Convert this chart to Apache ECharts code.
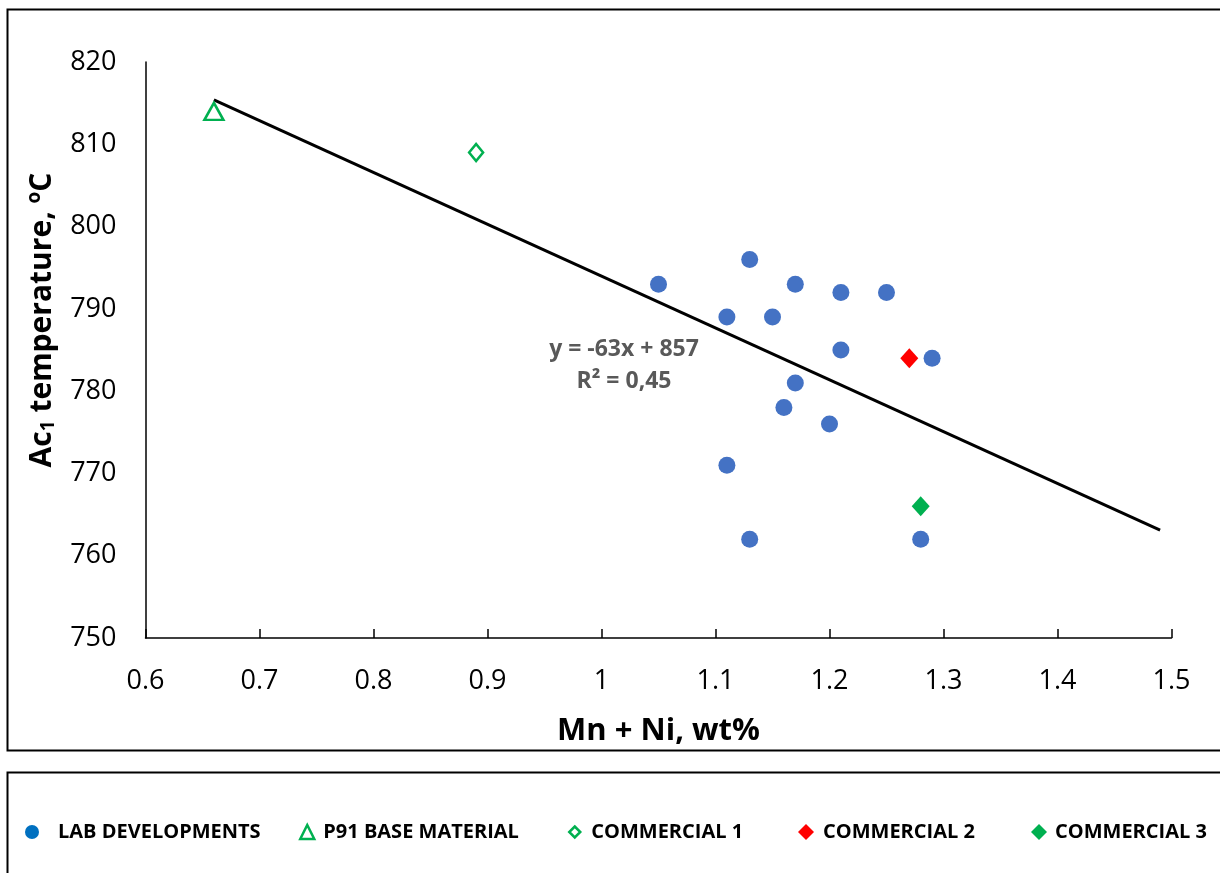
<!DOCTYPE html>
<html><head><meta charset="utf-8">
<script src="https://cdn.jsdelivr.net/npm/echarts@6/dist/echarts.min.js"></script>
<style>html,body{margin:0;padding:0;background:#fff}#c{width:1220px;height:873px}</style>
</head><body><div id="c"></div>
<script>
const labX = [1.05, 1.13, 1.17, 1.21, 1.25, 1.11, 1.15, 1.21, 1.29, 1.17, 1.16, 1.20, 1.11, 1.13, 1.28];
const labY = [793, 796, 793, 792, 792, 789, 789, 785, 784, 781, 778, 776, 771, 762, 762];
const p91X = [0.66], p91Y = [814];
const com1X = [0.89], com1Y = [809];
const com2X = [1.27], com2Y = [784];
const com3X = [1.28], com3Y = [766];
const trendX = [0.66, 1.49], trendY = [815.4, 763.1];
const seriesNames = ['LAB DEVELOPMENTS', 'P91 BASE MATERIAL', 'COMMERCIAL 1', 'COMMERCIAL 2', 'COMMERCIAL 3'];
const eqLines = ['y = -63x + 857', 'R² = 0,45'];

const zip = (a, b) => a.map((v, i) => [v, b[i]]);
const triPath = 'path://M50,0 L100,100 L0,100 Z';
const diaPath = 'path://M50,0 L100,50 L50,100 L0,50 Z';
const FONT = 'Open Sans';

const chart = echarts.init(document.getElementById('c'));
const legendBase = (name, left, icon, w, h, style, pad) => ({
  left: left, top: 822, padding: 0, itemWidth: w, itemHeight: h, icon: icon,
  data: [{ name: name, itemStyle: style }],
  textStyle: { fontFamily: FONT, fontWeight: 'bold', fontSize: 20, color: '#000', padding: [3, 0, 0, pad] },
  selectedMode: false
});
chart.setOption({
  animation: false,
  grid: { left: 145.5, right: 48.5, top: 62, bottom: 235 },
  xAxis: {
    type: 'value', min: 0.6, max: 1.5, interval: 0.1,
    name: 'Mn + Ni, wt%', nameLocation: 'middle', nameGap: 78,
    nameTextStyle: { fontFamily: FONT, fontWeight: 'bold', fontSize: 31, color: '#000' },
    axisLine: { lineStyle: { color: '#000', width: 1.5 } },
    axisTick: { inside: true, length: 9, lineStyle: { color: '#000', width: 1.5 } },
    axisLabel: { fontFamily: FONT, fontSize: 27, color: '#000', margin: 30 },
    splitLine: { show: false }
  },
  yAxis: {
    type: 'value', min: 750, max: 820, interval: 10,
    axisLine: { show: true, lineStyle: { color: '#000', width: 1.5 } },
    axisTick: { show: false },
    axisLabel: { fontFamily: FONT, fontSize: 27, color: '#000', margin: 29 },
    splitLine: { show: false }
  },
  legend: [
    legendBase(seriesNames[0], 25, 'circle', 14, 14, { color: '#0070C0' }, 14),
    legendBase(seriesNames[1], 299, triPath, 14, 16, { color: '#fff', borderColor: '#00B050', borderWidth: 2.5 }, 4),
    legendBase(seriesNames[2], 568, diaPath, 11, 17, { color: '#fff', borderColor: '#00B050', borderWidth: 2.5 }, 6),
    legendBase(seriesNames[3], 798, diaPath, 16, 20, { color: '#FF0000' }, 4),
    legendBase(seriesNames[4], 1031, diaPath, 16, 20, { color: '#00B050' }, 3)
  ],
  series: [
    { name: 'trend', type: 'line', data: zip(trendX, trendY), symbol: 'none', lineStyle: { color: '#000', width: 3 }, z: 1 },
    { name: seriesNames[0], type: 'scatter', data: zip(labX, labY), symbol: 'circle', symbolSize: 17, itemStyle: { color: '#4472C4', opacity: 1 }, z: 3 },
    { name: seriesNames[1], type: 'scatter', data: zip(p91X, p91Y), symbol: triPath, symbolSize: [19, 17], itemStyle: { color: '#fff', borderColor: '#00B050', borderWidth: 2.5, opacity: 1 }, z: 3 },
    { name: seriesNames[2], type: 'scatter', data: zip(com1X, com1Y), symbol: diaPath, symbolSize: [14, 17], itemStyle: { color: '#fff', borderColor: '#00B050', borderWidth: 2.5, opacity: 1 }, z: 3 },
    { name: seriesNames[3], type: 'scatter', data: zip(com2X, com2Y), symbol: diaPath, symbolSize: [18, 20], itemStyle: { color: '#FF0000', opacity: 1 }, z: 3 },
    { name: seriesNames[4], type: 'scatter', data: zip(com3X, com3Y), symbol: diaPath, symbolSize: [18, 20], itemStyle: { color: '#00B050', opacity: 1 }, z: 3 }
  ],
  graphic: [
    { type: 'rect', shape: { x: 7.5, y: 9.5, width: 1240, height: 741 }, style: { fill: 'none', stroke: '#000', lineWidth: 2 }, silent: true },
    { type: 'rect', shape: { x: 7.5, y: 772.5, width: 1240, height: 200 }, style: { fill: 'none', stroke: '#000', lineWidth: 2 }, silent: true },
    { type: 'text', x: 624, y: 349, style: { text: eqLines[0], fontFamily: FONT, fontWeight: 'bold', fontSize: 23, fill: '#595959', align: 'center', verticalAlign: 'middle' } },
    { type: 'text', x: 624, y: 381, style: { text: eqLines[1], fontFamily: FONT, fontWeight: 'bold', fontSize: 23, fill: '#595959', align: 'center', verticalAlign: 'middle' } },
    { type: 'text', x: 42, y: 320, rotation: Math.PI / 2,
      style: { text: '{b|Ac}{s|1}{b| temperature, }{p|o}{b|C}', align: 'center', verticalAlign: 'middle',
        rich: {
          b: { fontFamily: FONT, fontWeight: 'bold', fontSize: 30, fill: '#000' },
          s: { fontFamily: FONT, fontWeight: 'bold', fontSize: 19, fill: '#000', padding: [14, 0, 0, 0] },
          p: { fontFamily: FONT, fontWeight: 'bold', fontSize: 19, fill: '#000', padding: [0, 0, 14, 0] }
        } } }
  ]
});
</script></body></html>
